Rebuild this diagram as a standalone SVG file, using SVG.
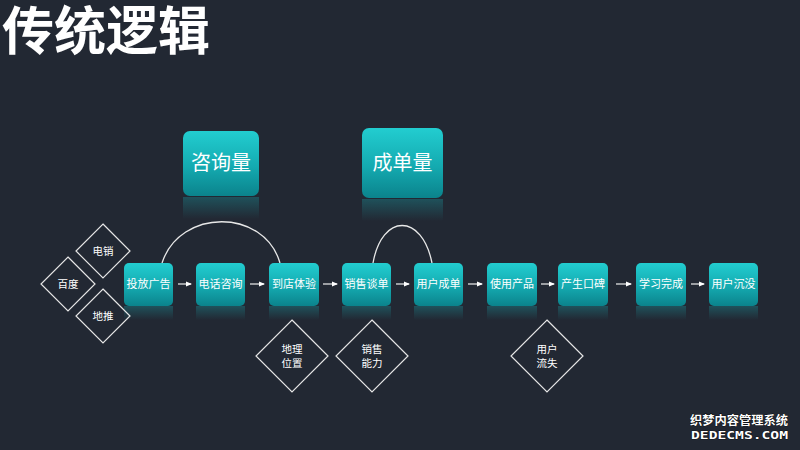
<svg xmlns="http://www.w3.org/2000/svg" width="800" height="450" viewBox="0 0 800 450">
<defs>
<linearGradient id="g" x1="0" y1="0" x2="0" y2="1">
<stop offset="0" stop-color="#22cdd0"/>
<stop offset="0.55" stop-color="#14aab0"/>
<stop offset="1" stop-color="#0b838c"/>
</linearGradient>
<linearGradient id="refl" x1="0" y1="0" x2="0" y2="1">
<stop offset="0" stop-color="#1a9ea5" stop-opacity="0.35"/>
<stop offset="1" stop-color="#1a9ea5" stop-opacity="0"/>
</linearGradient>
<marker id="ah" viewBox="0 0 6 6" refX="5" refY="3" markerWidth="5" markerHeight="5" orient="auto">
<path d="M0,0.5 L6,3 L0,5.5 z" fill="#ffffff"/>
</marker>
</defs>
<style>
.box{fill:url(#g);}
.rf{fill:url(#refl);}
.t{font-family:"Noto Sans CJK SC","Noto Sans",sans-serif;fill:#ffffff;text-anchor:middle;}
.bt{font-size:11px;}
.big{font-size:20px;}
.dm{fill:none;stroke:#e6e6e6;stroke-width:1.2;}
.dt{font-size:10.5px;}
.con{fill:none;stroke:#e8e8e8;stroke-width:1.3;}
.arr{stroke:#eeeeee;stroke-width:1.2;marker-end:url(#ah);}
</style>
<rect width="800" height="450" fill="#222833"/>
<text x="2" y="50" font-family="Noto Sans CJK SC,sans-serif" font-weight="bold" font-size="52" fill="#ffffff">传统逻辑</text>

<g id="connectors">
<path class="con" d="M162,263 C180,208 264,208 280,263"/>
<path class="con" d="M373,263 C382,213 422,213 432,263"/>
<line class="arr" x1="178" y1="284" x2="191" y2="284"/>
<line class="arr" x1="250" y1="284" x2="264" y2="284"/>
<line class="arr" x1="323" y1="284" x2="337" y2="284"/>
<line class="arr" x1="396" y1="284" x2="409" y2="284"/>
<line class="arr" x1="468" y1="284" x2="482" y2="284"/>
<line class="arr" x1="541" y1="284" x2="554" y2="284"/>
<line class="arr" x1="616" y1="284" x2="631" y2="284"/>
<line class="arr" x1="691" y1="284" x2="704" y2="284"/>
</g>

<g id="zixunliang">
<rect class="rf" x="183" y="197" width="76" height="22"/>
<rect class="box" x="183" y="131" width="76" height="65" rx="7"/>
<text class="t big" x="221" y="170">咨询量</text>
</g>
<g id="chengdanliang">
<rect class="rf" x="362" y="199" width="81" height="22"/>
<rect class="box" x="362" y="128" width="81" height="70" rx="7"/>
<text class="t big" x="402.5" y="170">成单量</text>
</g>

<g id="n1"><rect class="rf" x="124" y="306" width="49" height="14"/><rect class="box" x="124" y="263" width="49" height="43" rx="5"/><text class="t bt" x="148.5" y="288">投放广告</text></g>
<g id="n2"><rect class="rf" x="196" y="306" width="49" height="14"/><rect class="box" x="196" y="263" width="49" height="43" rx="5"/><text class="t bt" x="220.5" y="288">电话咨询</text></g>
<g id="n3"><rect class="rf" x="269" y="306" width="50" height="14"/><rect class="box" x="269" y="263" width="50" height="43" rx="5"/><text class="t bt" x="294" y="288">到店体验</text></g>
<g id="n4"><rect class="rf" x="342" y="306" width="49" height="14"/><rect class="box" x="342" y="263" width="49" height="43" rx="5"/><text class="t bt" x="366.5" y="288">销售谈单</text></g>
<g id="n5"><rect class="rf" x="414" y="306" width="49" height="14"/><rect class="box" x="414" y="263" width="49" height="43" rx="5"/><text class="t bt" x="438.5" y="288">用户成单</text></g>
<g id="n6"><rect class="rf" x="487" y="306" width="50" height="14"/><rect class="box" x="487" y="263" width="50" height="43" rx="5"/><text class="t bt" x="512" y="288">使用产品</text></g>
<g id="n7"><rect class="rf" x="558" y="306" width="50" height="14"/><rect class="box" x="558" y="263" width="50" height="43" rx="5"/><text class="t bt" x="583" y="288">产生口碑</text></g>
<g id="n8"><rect class="rf" x="636" y="306" width="50" height="14"/><rect class="box" x="636" y="263" width="50" height="43" rx="5"/><text class="t bt" x="661" y="288">学习完成</text></g>
<g id="n9"><rect class="rf" x="709" y="306" width="49" height="14"/><rect class="box" x="709" y="263" width="49" height="43" rx="5"/><text class="t bt" x="733.5" y="288">用户沉没</text></g>

<g id="d-baidu"><path class="dm" d="M68,257 L95,284 L68,311 L41,284 Z"/><text class="t dt" x="68" y="288">百度</text></g>
<g id="d-dianxiao"><path class="dm" d="M103,224 L130,251 L103,278 L76,251 Z"/><text class="t dt" x="103" y="255">电销</text></g>
<g id="d-ditui"><path class="dm" d="M103,289 L130,316 L103,343 L76,316 Z"/><text class="t dt" x="103" y="320">地推</text></g>
<g id="d-dili"><path class="dm" d="M292,320 L328,356 L292,392 L256,356 Z"/><text class="t dt" x="292" y="353">地理</text><text class="t dt" x="292" y="367">位置</text></g>
<g id="d-xiaoshou"><path class="dm" d="M372,320 L408,356 L372,392 L336,356 Z"/><text class="t dt" x="372" y="353">销售</text><text class="t dt" x="372" y="367">能力</text></g>
<g id="d-liushi"><path class="dm" d="M547,320 L583,356 L547,392 L511,356 Z"/><text class="t dt" x="547" y="353">用户</text><text class="t dt" x="547" y="367">流失</text></g>

<g id="watermark" font-family="Noto Sans CJK SC,sans-serif" font-weight="bold" fill="#ffffff" stroke="#000000" stroke-width="0.6" paint-order="stroke">
<text x="690" y="425" font-size="12" textLength="98" lengthAdjust="spacingAndGlyphs">织梦内容管理系统</text>
<text x="691" y="439" font-size="11" font-family="DejaVu Sans Mono,monospace" textLength="97" lengthAdjust="spacingAndGlyphs">DEDECMS.COM</text>
</g>
</svg>
